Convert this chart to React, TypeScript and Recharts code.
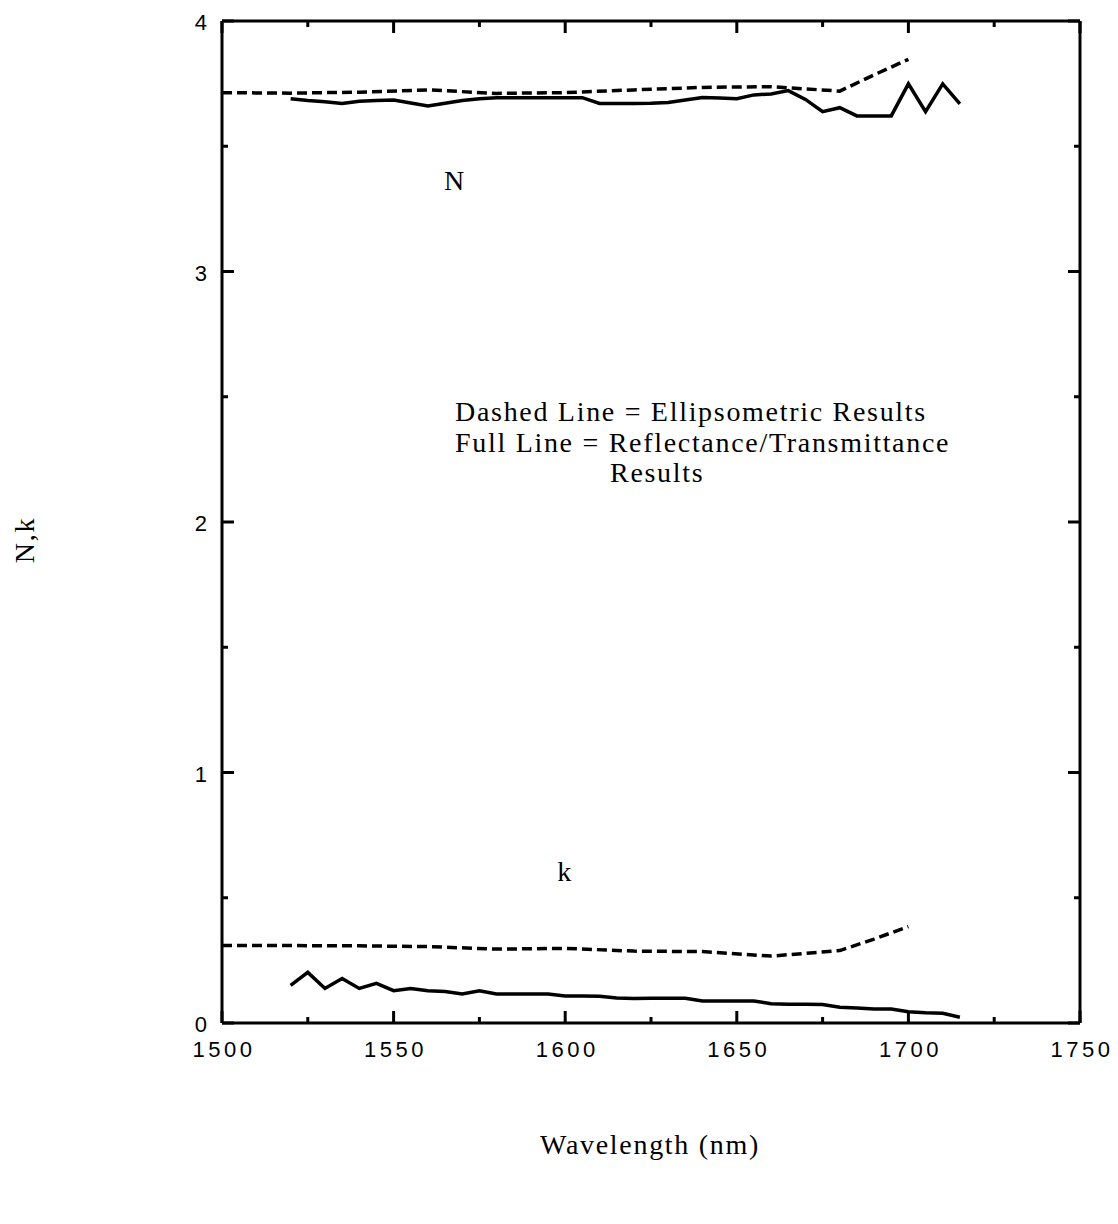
import React from "react";
import { LineChart, Line, XAxis, YAxis } from "recharts";

// wavelength (nm) / value pairs for each curve
const nFullWl = [1520, 1525, 1530, 1535, 1540, 1545, 1550, 1555, 1560, 1565, 1570, 1575, 1580, 1585, 1590, 1595, 1600, 1605, 1610, 1615, 1620, 1625, 1630, 1635, 1640, 1645, 1650, 1655, 1660, 1665, 1670, 1675, 1680, 1685, 1690, 1695, 1700, 1705, 1710, 1715];
const nFull = [3.69, 3.683, 3.678, 3.671, 3.68, 3.683, 3.685, 3.673, 3.661, 3.672, 3.683, 3.69, 3.694, 3.694, 3.694, 3.694, 3.694, 3.694, 3.671, 3.671, 3.671, 3.672, 3.675, 3.685, 3.695, 3.693, 3.69, 3.705, 3.709, 3.722, 3.687, 3.638, 3.654, 3.621, 3.621, 3.621, 3.749, 3.638, 3.749, 3.669];

const kFullWl = nFullWl;
const kFull = [0.15, 0.202, 0.138, 0.178, 0.138, 0.158, 0.129, 0.138, 0.129, 0.126, 0.116, 0.129, 0.116, 0.116, 0.116, 0.116, 0.108, 0.108, 0.107, 0.1, 0.098, 0.099, 0.099, 0.099, 0.088, 0.088, 0.088, 0.088, 0.077, 0.075, 0.075, 0.074, 0.063, 0.06, 0.056, 0.056, 0.045, 0.041, 0.039, 0.023];

const ellipWl = [1500, 1520, 1540, 1560, 1580, 1600, 1620, 1640, 1660, 1680, 1690, 1700];
const nEllip = [3.714, 3.712, 3.716, 3.725, 3.711, 3.714, 3.725, 3.735, 3.738, 3.72, 3.785, 3.847];
const kEllip = [0.309, 0.309, 0.308, 0.305, 0.295, 0.298, 0.287, 0.285, 0.267, 0.289, 0.335, 0.385];

const xTicks = [1500, 1525, 1550, 1575, 1600, 1625, 1650, 1675, 1700, 1725, 1750];
const yTicks = [0, 0.5, 1, 1.5, 2, 2.5, 3, 3.5, 4];

const pairs = (xs: number[], ys: number[]) => xs.map((w, i) => ({ w, v: ys[i] }));

const MAJOR = 12;
const MINOR = 6;
const INK = "#000";
const serif = "'Liberation Serif', 'Times New Roman', serif";
const sans = "'Liberation Sans', Arial, sans-serif";

const BottomTick = ({ x, y, payload }: any) => {
  const major = payload.value % 50 === 0;
  return (
    <g>
      <line x1={x} x2={x} y1={y} y2={y - (major ? MAJOR : MINOR)} stroke={INK} strokeWidth={3} />
      {major && (
        <text x={x + 2} y={y + 34} textAnchor="middle" fontFamily={sans} fontSize={22} letterSpacing={3.5} fill={INK}>
          {payload.value}
        </text>
      )}
    </g>
  );
};

const TopTick = ({ x, y, payload }: any) => {
  const major = payload.value % 50 === 0;
  return <line x1={x} x2={x} y1={y} y2={y + (major ? MAJOR : MINOR)} stroke={INK} strokeWidth={3} />;
};

const LeftTick = ({ x, y, payload }: any) => {
  const major = Number.isInteger(payload.value);
  return (
    <g>
      <line x1={x} x2={x + (major ? MAJOR : MINOR)} y1={y} y2={y} stroke={INK} strokeWidth={3} />
      {major && (
        <text x={x - 15} y={y + 9} textAnchor="end" fontFamily={sans} fontSize={22} fill={INK}>
          {payload.value}
        </text>
      )}
    </g>
  );
};

const RightTick = ({ x, y, payload }: any) => {
  const major = Number.isInteger(payload.value);
  return <line x1={x} x2={x - (major ? MAJOR : MINOR)} y1={y} y2={y} stroke={INK} strokeWidth={3} />;
};

const axisLine = { stroke: INK, strokeWidth: 3 };

const textStyle: React.CSSProperties = {
  position: "absolute",
  fontFamily: serif,
  fontSize: 28,
  letterSpacing: 1.7,
  color: INK,
  whiteSpace: "nowrap",
  lineHeight: "28px",
};

export default function App() {
  return (
    <div style={{ position: "relative", width: 1110, height: 1200 }}>
      <LineChart width={1110} height={1200} margin={{ top: 12, right: 37, bottom: 184, left: 213 }}>
        <XAxis
          dataKey="w"
          type="number"
          domain={[1500, 1750]}
          ticks={xTicks}
          allowDataOverflow
          height={1}
          tickSize={0}
          tickMargin={0}
          tickLine={false}
          axisLine={axisLine}
          tick={BottomTick}
          interval={0}
        />
        <XAxis
          xAxisId="top"
          orientation="top"
          dataKey="w"
          type="number"
          domain={[1500, 1750]}
          ticks={xTicks}
          allowDataOverflow
          height={1}
          tickSize={0}
          tickMargin={0}
          tickLine={false}
          axisLine={axisLine}
          tick={TopTick}
          interval={0}
        />
        <YAxis
          type="number"
          domain={[0, 4]}
          ticks={yTicks}
          allowDataOverflow
          width={1}
          tickSize={0}
          tickMargin={0}
          tickLine={false}
          axisLine={axisLine}
          tick={LeftTick}
          interval={0}
        />
        <YAxis
          yAxisId="right"
          orientation="right"
          type="number"
          domain={[0, 4]}
          ticks={yTicks}
          allowDataOverflow
          width={1}
          tickSize={0}
          tickMargin={0}
          tickLine={false}
          axisLine={axisLine}
          tick={RightTick}
          interval={0}
        />
        <Line data={pairs(ellipWl, nEllip)} dataKey="v" type="linear" stroke={INK} strokeWidth={3.5} strokeDasharray="10 5" dot={false} isAnimationActive={false} />
        <Line data={pairs(nFullWl, nFull)} dataKey="v" type="linear" stroke={INK} strokeWidth={3.5} dot={false} isAnimationActive={false} />
        <Line data={pairs(ellipWl, kEllip)} dataKey="v" type="linear" stroke={INK} strokeWidth={3.5} strokeDasharray="10 5" dot={false} isAnimationActive={false} />
        <Line data={pairs(kFullWl, kFull)} dataKey="v" type="linear" stroke={INK} strokeWidth={3.5} dot={false} isAnimationActive={false} />
      </LineChart>

      <div style={{ ...textStyle, left: 447, top: 173, transform: "translate(-50%, -50%)" }}>N</div>
      <div style={{ ...textStyle, left: 557, top: 864, transform: "translate(-50%, -50%)" }}>k</div>

      <div style={{ ...textStyle, left: 447, top: 389, lineHeight: "30.5px" }}>
        Dashed Line = Ellipsometric Results
        <br />
        Full Line = Reflectance/Transmittance
        <br />
        <span style={{ paddingLeft: 155 }}>Results</span>
      </div>

      <div style={{ ...textStyle, left: 17, top: 532, transform: "translate(-50%, -50%) rotate(-90deg)" }}>N,k</div>
      <div style={{ ...textStyle, left: 642, top: 1137, transform: "translate(-50%, -50%)" }}>Wavelength (nm)</div>
    </div>
  );
}
